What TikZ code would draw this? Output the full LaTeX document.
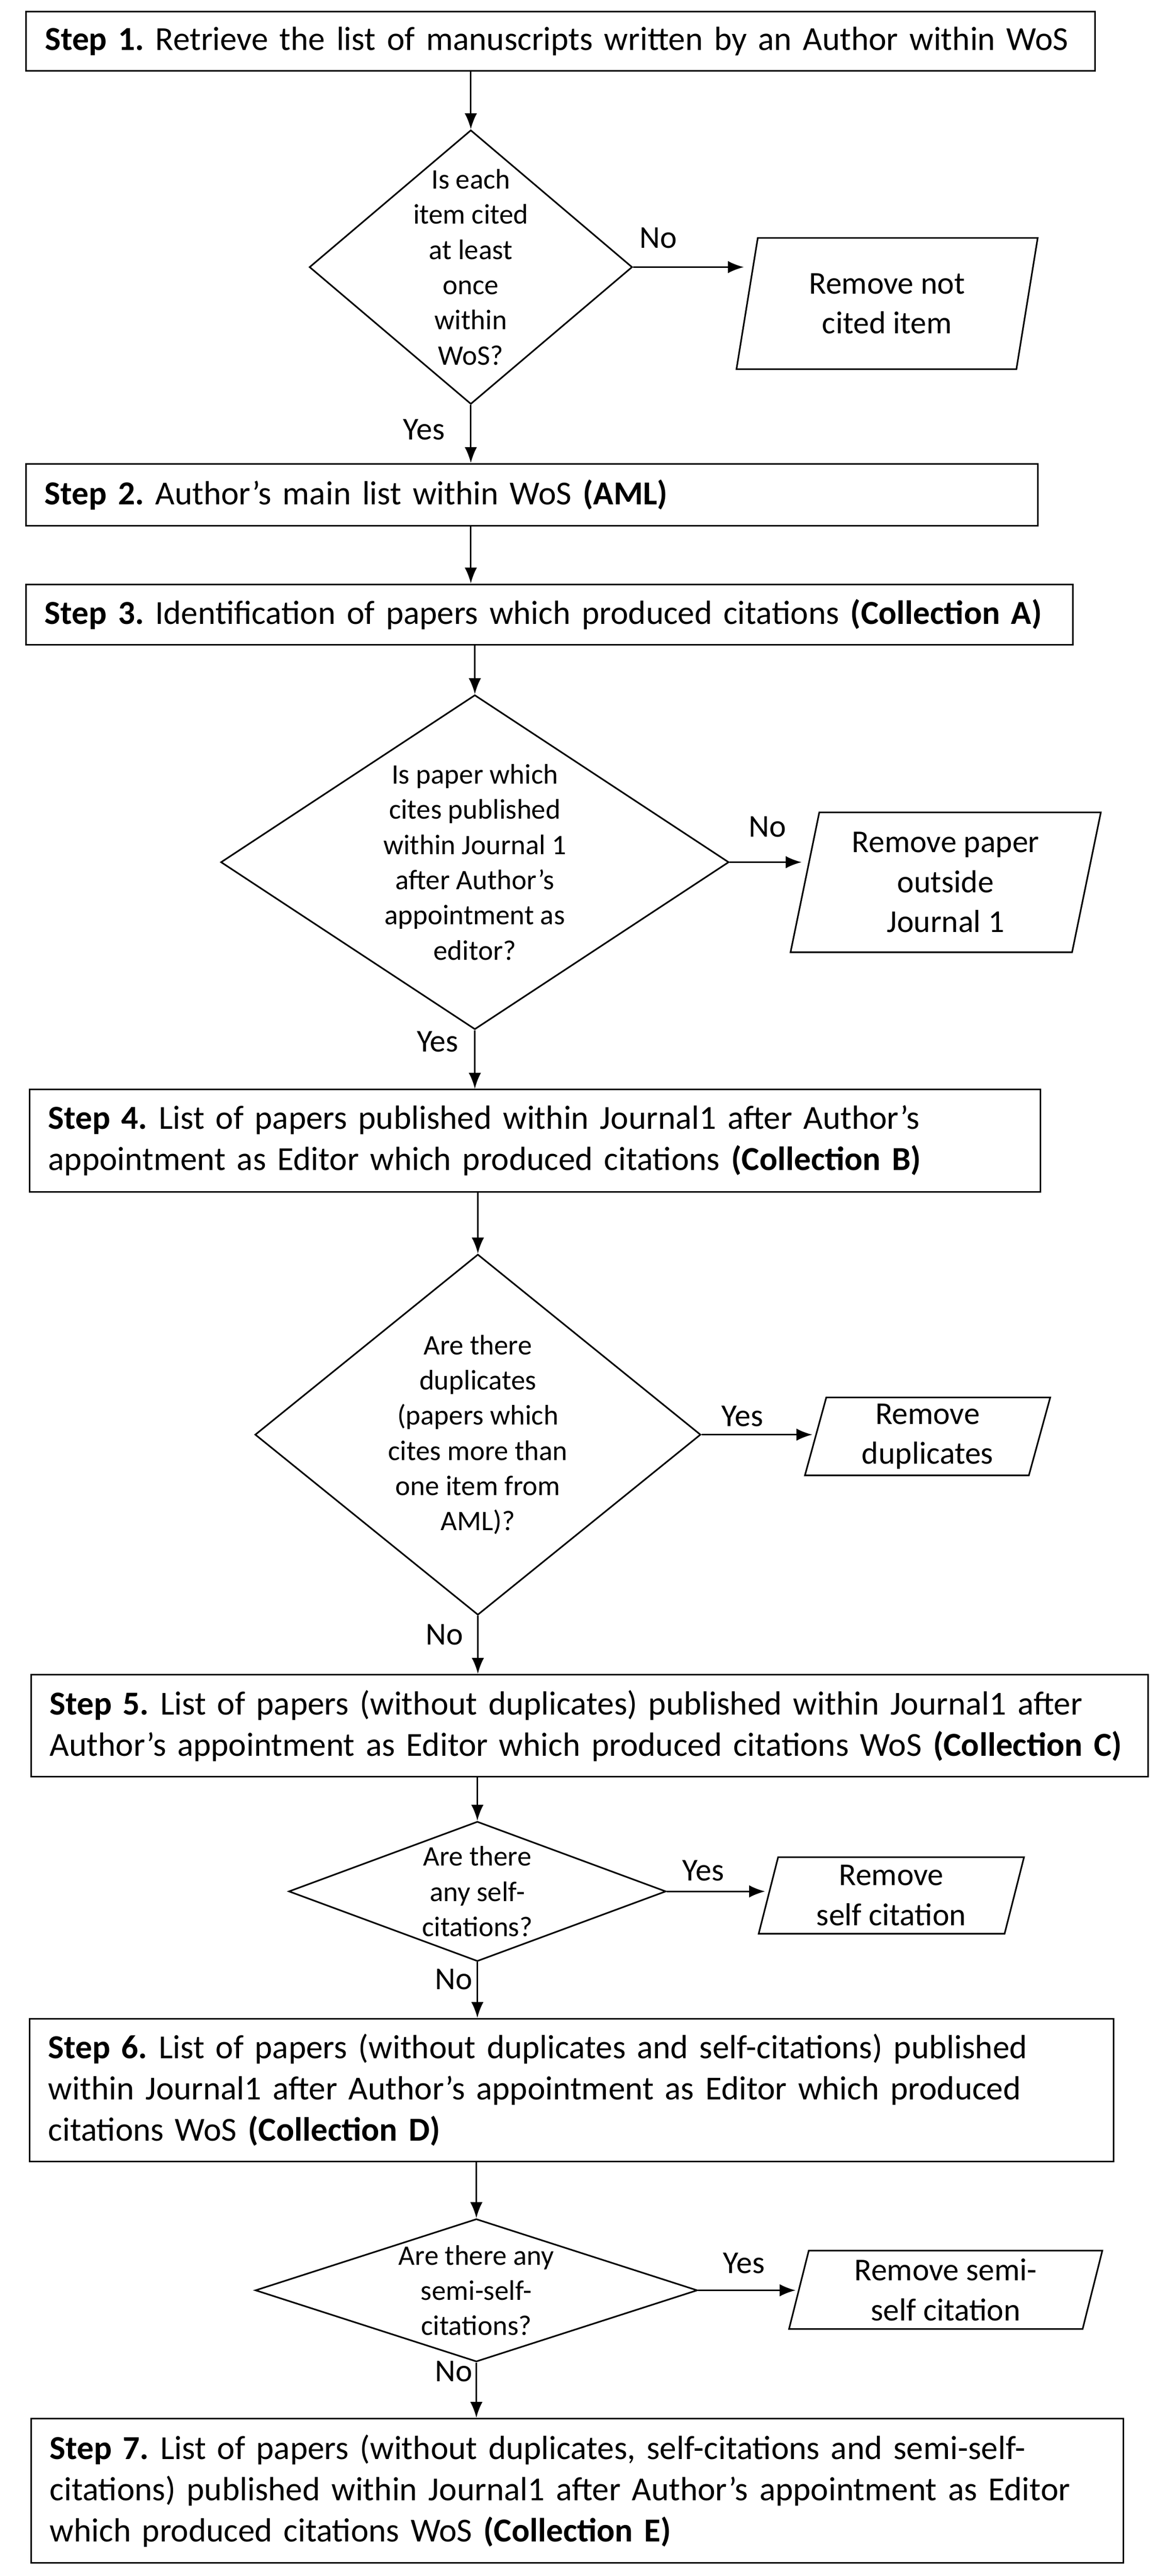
\documentclass[tikz,border=0pt]{standalone}
\usepackage{fontspec}
\setmainfont{Carlito}
\usetikzlibrary{positioning, shapes.geometric, arrows.meta, calc}
\frenchspacing

\begin{document}
\begin{tikzpicture}[
    % GLOBAL CFG
    >=LaTeX,
    % Styles
    stepbox/.style={% For the step boxes
        rectangle,
        draw,
        line width=0.9pt,
        inner xsep=0.37cm,
        align=left,
        font=\fontsize{19}{23.3}\selectfont,
        },
    decision/.style={% For the question diamonds
        diamond,
        draw,
        line width=0.9pt,
        inner sep=0pt,
        },
    question/.style={% For the text in the diamonds
        align=center,
        font=\fontsize{16}{19.9}\selectfont,
        },
    remove/.style={% For the removal boxes
        trapezium,
        trapezium left angle=78,
        trapezium right angle=102,
        trapezium stretches=true,
        draw,
        line width=0.9pt,
        inner sep=0pt,
        align=center,
        font=\fontsize{18}{22.5}\selectfont,
        },
    answer/.style={% For Yes and No
        font=\fontsize{18}{22}\selectfont,
        },
    Arrow/.style={% Arrows
        -{Latex[length=9pt,width=7pt]},
        line width=0.9pt,
        },
    ]
\useasboundingbox (0,0) rectangle (22.92,-51.21);
% Steps
\node [stepbox, minimum width=21.25cm, minimum height=1.18cm, text width=20.5cm] (step1) at (11.145,-0.82)
    {\textbf{Step 1.} Retrieve the list of manuscripts written by an Author within WoS};
\node [stepbox, minimum width=20.11cm, minimum height=1.23cm, text width=19.37cm] (step2) at (10.575,-9.835)
    {\textbf{Step 2.} Author’s main list within WoS \textbf{(AML)}};
\node [stepbox, minimum width=20.81cm, minimum height=1.2cm, text width=20.07cm] (step3) at (10.925,-12.215)
    {\textbf{Step 3.} Identification of papers which produced citations \textbf{(Collection A)}};
\node [stepbox, minimum width=20.09cm, minimum height=2.03cm, text width=19.35cm] (step4) at (10.635,-22.675)
    {\textbf{Step 4.} List of papers published within Journal1 after Author’s\\
     appointment as Editor which produced citations \textbf{(Collection B)}};
\node [stepbox, minimum width=22.2cm, minimum height=2.03cm, text width=21.46cm] (step5) at (11.72,-34.305)
    {\textbf{Step 5.} List of papers (without duplicates) published within Journal1 after\\
     Author’s appointment as Editor which produced citations WoS \textbf{(Collection C)}};
\node [stepbox, minimum width=21.55cm, minimum height=2.84cm, text width=20.81cm] (step6) at (11.365,-41.55)
    {\textbf{Step 6.} List of papers (without duplicates and self-citations) published\\
     within Journal1 after Author’s appointment as Editor which produced\\
     citations WoS \textbf{(Collection D)}};
\node [stepbox, minimum width=21.71cm, minimum height=2.87cm, text width=20.97cm] (step7) at (11.475,-49.515)
    {\textbf{Step 7.} List of papers (without duplicates, self-citations and semi-self-\\
     citations) published within Journal1 after Author’s appointment as Editor\\
     which produced citations WoS \textbf{(Collection E)}};
% Decisions
\node [decision, minimum width=6.42cm, minimum height=5.45cm] (dec1) at (9.36,-5.31) {};
\node [question] (q1) at (dec1) {Is each\\item cited\\at least\\once\\within\\WoS?};
\node [decision, minimum width=10.1cm, minimum height=6.65cm] (dec2) at (9.44,-17.14) {};
\node [question] (q2) at (dec2) {Is paper which\\cites published\\within Journal 1\\after Author’s\\appointment as\\editor?};
\node [decision, minimum width=8.86cm, minimum height=7.17cm] (dec3) at (9.5,-28.52) {};
\node [question] (q3) at (dec3) {Are there\\duplicates\\(papers which\\cites more than\\one item from\\AML)?};
\node [decision, minimum width=7.5cm, minimum height=2.78cm] (dec4) at (9.49,-37.6) {};
\node [question] (q4) at (dec4) {Are there\\any self-\\citations?};
\node [decision, minimum width=8.79cm, minimum height=2.84cm] (dec5) at (9.47,-45.53) {};
\node [question] (q5) at (dec5) {Are there any\\semi-self-\\citations?};
% Removals
\node [remove, minimum width=5.99cm, minimum height=2.61cm] (rem1) at (17.635,-6.035) {Remove not\\cited item};
\node [remove, minimum width=6.18cm, minimum height=2.78cm] (rem2) at (18.8,-17.54) {Remove paper\\outside\\Journal 1};
\node [remove, minimum width=4.88cm, minimum height=1.55cm] (rem3) at (18.44,-28.555) {Remove\\duplicates};
\node [remove, minimum width=5.32cm, minimum height=1.52cm] (rem4) at (17.72,-37.68) {Remove\\self citation};
\node [remove, minimum width=6.24cm, minimum height=1.56cm] (rem5) at (18.8,-45.52) {Remove semi-\\self citation};
% Answers
\node [answer] (no1) at (13.09,-4.73) {No};
\node [answer] (yes1) at (8.43,-8.54) {Yes};
\node [answer] (no2) at (15.26,-16.44) {No};
\node [answer] (yes2) at (8.7,-20.71) {Yes};
\node [answer] (yes3) at (14.76,-28.15) {Yes};
\node [answer] (no3) at (8.84,-32.5) {No};
\node [answer] (yes4) at (13.98,-37.19) {Yes};
\node [answer] (no4) at (9.02,-39.35) {No};
\node [answer] (yes5) at (14.79,-44.99) {Yes};
\node [answer] (no5) at (9.02,-47.14) {No};
% Connectors
\draw [Arrow] (dec1.north |- step1.south) -- (dec1.north);
\draw [Arrow] (dec1.south) -- (dec1.south |- step2.north);
\draw [Arrow] (dec1.north |- step2.south) -- (dec1.north |- step3.north);
\draw [Arrow] (dec2.north |- step3.south) -- (dec2.north);
\draw [Arrow] (dec2.south) -- (dec2.south |- step4.north);
\draw [Arrow] (dec3.north |- step4.south) -- (dec3.north);
\draw [Arrow] (dec3.south) -- (dec3.south |- step5.north);
\draw [Arrow] (dec4.north |- step5.south) -- (dec4.north);
\draw [Arrow] (dec4.south) -- (dec4.south |- step6.north);
\draw [Arrow] (dec5.north |- step6.south) -- (dec5.north);
\draw [Arrow] (dec5.south) -- (dec5.south |- step7.north);
\draw [Arrow] (dec1.east) -- ($(dec1.east -| rem1.west)+(-0.05,0)$);
\draw [Arrow] (dec2.east) -- ($(dec2.east -| rem2.west)+(-0.05,0)$);
\draw [Arrow] (dec3.east) -- ($(dec3.east -| rem3.west)+(-0.05,0)$);
\draw [Arrow] (dec4.east) -- ($(dec4.east -| rem4.west)+(-0.05,0)$);
\draw [Arrow] (dec5.east) -- ($(dec5.east -| rem5.west)+(-0.05,0)$);
\end{tikzpicture}
\end{document}
